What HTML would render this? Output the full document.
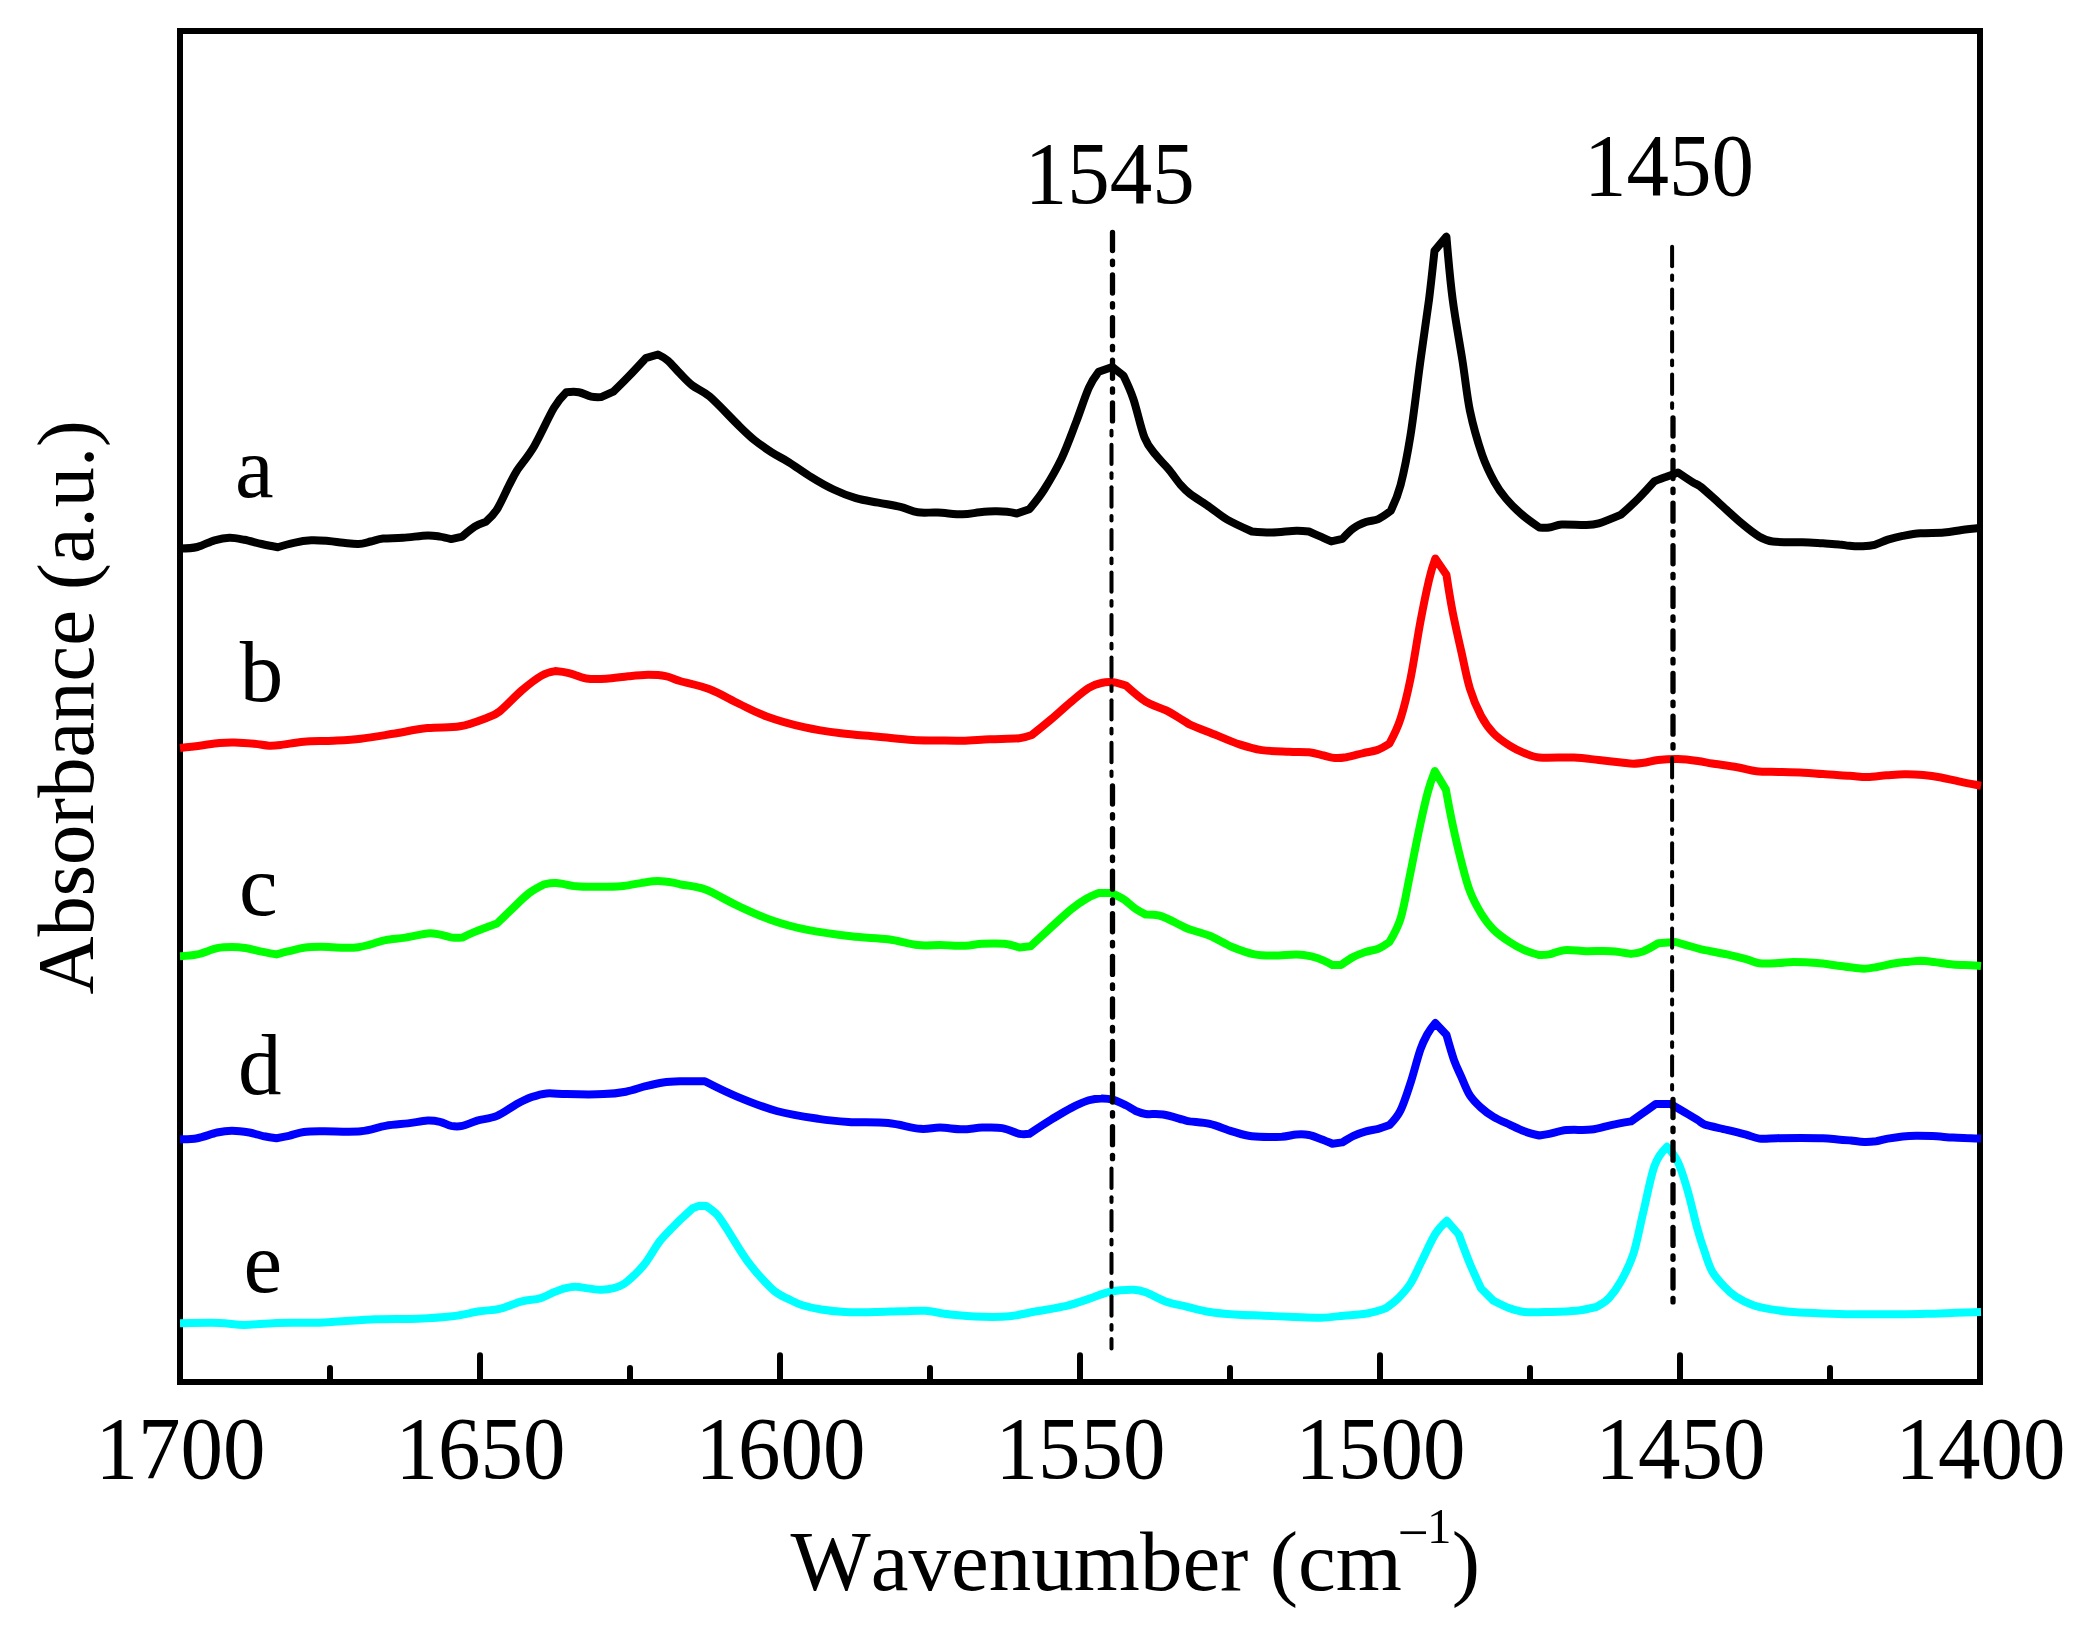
<!DOCTYPE html>
<html lang="en">
<head>
<meta charset="utf-8">
<title>FTIR spectra - Absorbance vs Wavenumber</title>
<style>
html,body{margin:0;padding:0;background:#ffffff;}
body{width:2099px;height:1626px;overflow:hidden;}
svg{display:block;}
text{font-family:"Liberation Serif", serif;fill:#000;font-kerning:none;}
</style>
</head>
<body>
<svg width="2099" height="1626" viewBox="0 0 2099 1626" role="img" aria-labelledby="chart-title chart-desc">
<title id="chart-title">Absorbance (a.u.) versus Wavenumber (cm−1) for samples a–e</title>
<desc id="chart-desc">Five stacked infrared absorbance spectra (a black, b red, c green, d blue, e cyan) from 1700 to 1400 cm−1 with dash-dot marker lines at 1545 and 1450.</desc>
<rect x="0" y="0" width="2099" height="1626" fill="#ffffff"/>
<g id="axes" stroke="#000" stroke-width="6" fill="none">
<rect x="180" y="31" width="1800" height="1351"/>
<g stroke-linecap="round">
<line x1="480" y1="1381" x2="480" y2="1355.2"/>
<line x1="780" y1="1381" x2="780" y2="1355.2"/>
<line x1="1080" y1="1381" x2="1080" y2="1355.2"/>
<line x1="1380" y1="1381" x2="1380" y2="1355.2"/>
<line x1="1680" y1="1381" x2="1680" y2="1355.2"/>
<line x1="330" y1="1381" x2="330" y2="1368"/>
<line x1="630" y1="1381" x2="630" y2="1368"/>
<line x1="930" y1="1381" x2="930" y2="1368"/>
<line x1="1230" y1="1381" x2="1230" y2="1368"/>
<line x1="1530" y1="1381" x2="1530" y2="1368"/>
<line x1="1830" y1="1381" x2="1830" y2="1368"/>
</g>
</g>
<g id="spectra" fill="none" stroke-width="8" stroke-linejoin="round" stroke-linecap="butt">
<path id="curve-a" stroke="#000000" d="M180.0,548.5 C180.0,548.5 191.5,548.4 197.3,547.0 C203.0,545.6 209.2,541.8 214.6,540.3 C220.0,538.8 224.5,537.9 229.5,537.8 C234.4,537.7 239.0,538.8 244.3,539.8 C249.7,540.8 256.1,542.8 261.7,544.0 C267.2,545.3 277.8,547.2 277.8,547.2 C277.8,547.2 288.3,543.9 293.9,542.8 C299.4,541.6 305.4,540.6 311.2,540.3 C317.0,540.0 323.2,540.6 328.6,541.0 C333.9,541.5 338.5,542.3 343.4,542.8 C348.4,543.3 353.7,544.2 358.3,544.0 C362.8,543.8 366.5,542.5 370.7,541.5 C374.8,540.6 378.1,539.1 383.1,538.6 C388.4,538.0 395.4,538.4 402.9,537.8 C410.3,537.3 421.5,535.6 427.6,535.4 C432.6,535.2 436.1,536.0 440.0,536.6 C444.0,537.2 451.2,539.1 451.2,539.1 L462.3,536.6 C462.3,536.6 470.8,529.2 474.7,526.7 C478.6,524.2 485.9,521.7 485.9,521.7 C485.9,521.7 493.1,515.5 497.0,509.3 C500.9,503.1 506.1,491.0 509.4,484.6 C512.4,478.8 513.9,475.5 516.8,470.9 C521.0,464.5 528.0,456.7 534.2,446.2 C540.4,435.6 548.6,416.8 554.0,407.8 C558.9,399.5 566.4,392.2 566.4,392.2 C566.4,392.2 574.6,391.4 578.8,392.2 C582.9,392.9 587.4,395.8 591.2,396.6 C594.9,397.4 601.1,397.1 601.1,397.1 L613.4,391.7 C613.4,391.7 622.9,382.4 628.3,376.8 C633.7,371.2 645.7,358.2 645.7,358.2 L658.0,354.5 C658.0,354.5 664.3,357.5 668.0,360.7 C671.6,363.9 676.1,369.6 680.2,373.7 C684.2,377.8 687.5,381.7 692.4,385.5 C697.3,389.3 702.8,390.6 709.7,396.6 C717.6,403.4 732.0,419.1 739.5,426.3 C745.4,432.1 749.0,435.6 754.3,440.0 C759.7,444.3 765.9,448.6 771.7,452.4 C777.4,456.1 782.4,458.1 789.0,462.3 C795.6,466.4 803.9,472.6 811.3,477.1 C818.7,481.7 826.2,486.0 833.6,489.5 C841.0,493.0 848.5,496.0 855.9,498.2 C863.3,500.4 870.8,501.2 878.2,502.6 C885.6,504.1 893.9,505.3 900.5,506.9 C907.1,508.5 911.6,511.4 917.8,512.3 C924.0,513.3 930.2,512.2 937.6,512.6 C945.1,512.9 955.4,514.3 962.4,514.3 C969.4,514.3 974.4,512.8 979.8,512.3 C985.1,511.8 990.1,511.4 994.6,511.3 C999.2,511.2 1003.3,511.4 1007.0,511.8 C1010.7,512.2 1016.9,513.5 1016.9,513.5 L1029.3,509.3 C1029.3,509.3 1038.8,498.0 1044.2,489.5 C1049.5,481.1 1056.1,469.9 1061.5,458.6 C1066.9,447.2 1071.8,433.2 1076.4,421.4 C1080.9,409.6 1085.1,396.2 1088.8,387.9 C1092.5,379.7 1098.7,371.8 1098.7,371.8 L1112.3,366.9 L1123.4,375.6 C1123.4,375.6 1129.8,388.8 1133.4,399.1 C1136.9,409.4 1140.8,428.2 1144.5,437.5 C1148.2,446.8 1151.7,449.7 1155.7,454.8 C1159.6,460.0 1163.9,463.5 1168.0,468.5 C1172.2,473.4 1176.7,480.3 1180.4,484.6 C1184.1,488.8 1186.3,491.0 1190.2,494.0 C1195.1,497.8 1203.7,502.9 1209.8,507.2 C1216.0,511.5 1220.2,515.6 1227.2,519.6 C1234.2,523.6 1251.9,531.5 1251.9,531.5 C1251.9,531.5 1264.3,532.6 1271.8,532.5 C1279.2,532.3 1290.3,530.9 1296.5,530.7 C1301.5,530.6 1308.9,531.5 1308.9,531.5 C1308.9,531.5 1317.6,535.3 1321.3,536.9 C1325.0,538.6 1331.2,541.4 1331.2,541.4 L1342.4,538.9 C1342.4,538.9 1349.6,531.1 1353.5,528.3 C1357.4,525.4 1361.8,523.6 1365.9,522.1 C1370.0,520.5 1374.2,520.9 1378.3,519.1 C1382.4,517.2 1390.7,510.9 1390.7,510.9 C1390.7,510.9 1397.3,497.5 1400.6,484.9 C1403.9,472.3 1407.2,456.0 1410.5,435.4 C1413.8,414.7 1417.3,383.7 1420.4,361.0 C1423.5,338.3 1426.7,317.5 1429.1,299.1 C1431.2,282.1 1434.5,250.8 1434.5,250.8 L1446.4,236.7 C1446.4,236.7 1450.1,280.0 1452.6,299.1 C1455.3,319.8 1459.6,342.4 1462.5,361.0 C1465.4,379.6 1467.0,396.5 1469.9,410.6 C1473.2,426.3 1478.2,443.2 1482.3,455.2 C1486.5,467.1 1490.8,475.2 1494.7,482.4 C1498.6,489.6 1501.4,493.3 1505.9,498.5 C1510.4,503.9 1516.4,509.8 1522.0,514.6 C1527.5,519.5 1539.3,527.5 1539.3,527.5 C1539.3,527.5 1545.5,528.0 1549.2,527.5 C1552.9,527.0 1556.7,524.9 1561.6,524.5 C1567.8,524.1 1580.2,525.2 1586.4,525.0 C1591.3,524.9 1593.8,524.8 1598.8,523.3 C1604.5,521.6 1621.1,514.6 1621.1,514.6 C1621.1,514.6 1632.8,504.1 1638.4,498.5 C1644.0,492.9 1654.5,481.2 1654.5,481.2 C1654.5,481.2 1661.7,478.4 1665.7,477.0 C1669.6,475.5 1678.0,472.5 1678.0,472.5 C1678.0,472.5 1689.2,480.1 1692.9,482.4 C1695.9,484.3 1697.4,484.1 1700.3,486.5 C1704.8,490.0 1712.6,497.3 1719.5,503.4 C1726.4,509.6 1735.0,517.8 1741.7,523.4 C1748.3,528.9 1754.2,533.6 1759.4,536.7 C1764.6,539.7 1767.4,540.9 1772.7,541.5 C1779.8,542.5 1793.9,542.0 1802.2,542.3 C1810.5,542.6 1816.8,543.0 1822.9,543.3 C1829.1,543.7 1834.7,543.9 1839.2,544.4 C1843.3,544.7 1845.6,545.5 1849.5,545.8 C1853.4,546.2 1858.6,546.4 1862.8,546.3 C1867.0,546.1 1870.4,545.9 1874.6,544.8 C1878.8,543.7 1883.2,541.1 1887.9,539.6 C1892.6,538.2 1897.3,537.0 1902.7,535.9 C1908.1,534.9 1913.5,533.8 1920.4,533.3 C1927.3,532.7 1937.1,533.1 1944.0,532.5 C1950.9,532.0 1955.6,530.8 1961.7,530.0 C1967.9,529.2 1981.0,527.8 1981.0,527.8"/>
<path id="curve-b" stroke="#ff0000" d="M180.0,747.9 C180.0,747.9 193.1,746.5 199.7,745.7 C206.3,744.8 213.8,743.5 219.5,742.9 C225.3,742.4 228.6,742.3 234.4,742.4 C240.2,742.6 248.5,743.2 254.2,743.7 C260.0,744.2 264.6,745.5 269.1,745.7 C273.6,745.9 276.5,745.5 281.5,744.9 C287.3,744.3 295.1,742.4 303.8,741.7 C312.4,741.0 324.0,741.2 333.5,740.7 C343.0,740.2 350.8,739.9 360.8,738.7 C370.7,737.6 381.8,735.6 393.0,733.8 C404.1,732.0 416.5,729.3 427.6,728.1 C438.8,726.8 449.9,728.1 459.9,726.3 C469.8,724.6 480.5,720.2 487.1,717.7 C492.1,715.8 494.5,715.4 499.5,711.5 C505.3,706.9 514.8,696.4 521.8,690.4 C528.8,684.4 536.0,678.8 541.6,675.6 C547.1,672.4 555.2,671.1 555.2,671.1 C555.2,671.1 563.7,671.8 568.9,673.1 C574.0,674.3 580.0,677.6 586.2,678.5 C592.4,679.5 599.0,679.2 606.0,678.8 C613.0,678.4 621.3,677.0 628.3,676.3 C635.3,675.6 641.9,674.9 648.1,674.8 C654.3,674.8 660.2,675.0 665.5,676.1 C670.8,677.1 674.2,679.3 680.0,681.0 C687.4,683.2 699.8,685.3 709.7,689.2 C719.6,693.0 730.0,699.5 739.5,704.0 C749.0,708.6 756.0,712.6 766.7,716.4 C777.4,720.3 791.5,724.3 803.9,727.1 C816.3,729.9 828.6,731.7 841.0,733.3 C853.4,734.9 866.2,735.6 878.2,736.8 C890.2,737.9 903.0,739.4 912.9,740.0 C922.8,740.6 929.4,740.3 937.6,740.5 C945.9,740.6 953.7,740.9 962.4,740.7 C971.1,740.5 980.2,739.6 989.7,739.2 C999.2,738.8 1012.4,738.9 1019.4,738.2 C1024.4,737.7 1031.8,735.0 1031.8,735.0 C1031.8,735.0 1045.0,724.5 1051.6,718.9 C1058.2,713.3 1065.2,706.7 1071.4,701.6 C1077.6,696.4 1083.8,691.0 1088.8,687.9 C1093.7,684.8 1097.0,683.9 1101.2,683.0 C1105.3,682.0 1109.4,681.8 1113.5,682.2 C1117.7,682.7 1125.9,685.5 1125.9,685.5 C1125.9,685.5 1139.1,697.4 1145.7,701.6 C1152.4,705.7 1159.4,707.1 1165.6,710.2 C1171.8,713.3 1178.8,717.8 1182.9,720.2 C1185.7,721.8 1187.2,723.3 1190.0,724.6 C1195.3,727.0 1206.5,731.2 1214.8,734.5 C1223.0,737.8 1231.7,741.8 1239.5,744.4 C1247.4,747.0 1253.6,748.8 1261.8,750.1 C1270.1,751.3 1281.2,751.4 1289.1,751.8 C1296.9,752.2 1303.1,751.7 1308.9,752.3 C1314.7,752.9 1319.4,754.6 1323.8,755.5 C1328.1,756.5 1331.2,757.7 1334.9,758.0 C1338.6,758.3 1341.6,758.0 1346.1,757.3 C1350.8,756.4 1358.3,754.3 1363.4,753.1 C1368.6,751.9 1372.7,751.6 1377.0,750.1 C1381.4,748.5 1389.4,743.6 1389.4,743.6 C1389.4,743.6 1397.1,729.2 1400.6,718.4 C1404.1,707.6 1407.2,694.8 1410.5,678.7 C1413.8,662.6 1417.3,638.3 1420.4,621.8 C1423.5,605.2 1426.6,590.2 1429.1,579.6 C1431.5,569.1 1435.3,558.6 1435.3,558.6 L1446.4,574.7 C1446.4,574.7 1450.1,599.0 1452.6,611.8 C1455.1,624.6 1458.4,638.7 1461.3,651.5 C1464.2,664.3 1466.6,677.9 1469.9,688.6 C1473.2,699.4 1477.2,708.5 1481.1,715.9 C1485.0,723.3 1488.7,728.3 1493.5,733.2 C1498.2,738.2 1504.4,742.3 1509.6,745.6 C1514.7,748.9 1519.5,751.1 1524.4,753.1 C1529.4,755.0 1533.4,757.0 1539.3,757.5 C1547.6,758.3 1564.1,757.1 1574.0,757.5 C1583.9,757.9 1590.9,759.2 1598.8,760.0 C1606.6,760.8 1615.3,761.8 1621.1,762.5 C1626.0,763.0 1629.3,763.7 1633.4,763.7 C1637.6,763.7 1641.7,763.1 1645.8,762.5 C1650.0,761.8 1653.3,760.5 1658.2,760.0 C1663.6,759.4 1671.4,758.8 1678.0,759.0 C1684.6,759.2 1692.2,760.2 1697.9,761.0 C1703.5,761.7 1706.4,762.6 1712.2,763.5 C1718.7,764.5 1729.9,765.9 1737.3,767.2 C1744.6,768.5 1749.6,770.5 1756.5,771.3 C1763.4,772.1 1770.7,771.7 1778.6,771.9 C1786.5,772.1 1796.3,772.3 1803.7,772.7 C1811.1,773.0 1815.3,773.6 1822.9,774.1 C1830.6,774.7 1842.1,775.3 1849.5,775.8 C1856.6,776.2 1861.1,777.2 1867.2,777.1 C1873.4,777.0 1880.3,775.8 1886.4,775.3 C1892.6,774.9 1898.0,774.3 1904.1,774.3 C1910.3,774.2 1917.2,774.5 1923.3,775.0 C1929.5,775.6 1934.4,776.3 1941.1,777.5 C1947.7,778.8 1956.6,781.1 1963.2,782.4 C1969.9,783.8 1981.0,785.7 1981.0,785.7"/>
<path id="curve-c" stroke="#00ff00" d="M180.0,956.2 C180.0,956.2 191.1,955.8 197.3,954.4 C203.4,953.1 211.3,949.5 217.1,948.2 C222.9,947.0 227.0,947.0 231.9,947.0 C236.9,947.0 241.8,947.5 246.8,948.2 C251.8,949.0 256.7,950.7 261.7,951.7 C266.6,952.7 276.5,954.4 276.5,954.4 C276.5,954.4 284.4,952.3 288.9,951.2 C293.5,950.1 298.4,948.5 303.8,947.7 C309.1,947.0 314.5,946.8 321.1,946.8 C327.7,946.8 337.2,947.7 343.4,947.7 C349.4,947.8 353.7,947.8 358.3,947.2 C362.8,946.7 366.1,945.5 370.7,944.3 C375.2,943.1 379.8,941.2 385.5,940.1 C391.3,938.9 398.3,938.7 405.4,937.6 C412.4,936.5 421.9,933.9 427.6,933.4 C432.6,932.9 435.9,933.9 440.0,934.6 C444.2,935.3 448.7,937.1 452.4,937.6 C456.1,938.1 462.3,937.6 462.3,937.6 C462.3,937.6 469.8,933.9 474.7,931.9 C480.5,929.5 497.0,923.5 497.0,923.5 C497.0,923.5 506.5,914.2 511.9,909.1 C517.2,904.0 523.9,897.1 529.2,893.0 C534.6,888.9 544.1,884.3 544.1,884.3 C544.1,884.3 551.5,882.8 556.5,883.1 C561.8,883.4 569.7,885.7 576.3,886.3 C582.9,886.9 588.7,886.8 596.1,886.8 C603.5,886.8 613.4,886.9 620.9,886.3 C628.3,885.7 634.5,883.9 640.7,883.1 C646.9,882.2 652.3,881.1 658.0,881.1 C663.8,881.1 671.7,882.5 675.4,883.1 C677.2,883.4 678.2,883.9 680.0,884.3 C684.9,885.4 695.3,885.8 704.8,889.3 C714.3,892.8 725.8,900.2 737.0,905.4 C748.1,910.5 759.7,916.1 771.7,920.2 C783.6,924.4 795.6,927.5 808.8,930.2 C822.0,932.8 837.7,934.8 850.9,936.3 C864.2,937.9 877.0,937.9 888.1,939.3 C899.2,940.8 909.2,944.1 917.8,945.0 C926.5,946.0 932.3,944.9 940.1,945.0 C948.0,945.1 957.9,946.0 964.9,945.8 C971.8,945.6 975.6,944.1 982.2,943.8 C988.8,943.4 998.3,943.2 1004.5,943.8 C1010.5,944.4 1019.4,947.5 1019.4,947.5 L1030.5,946.3 C1030.5,946.3 1040.2,937.2 1046.7,931.4 C1053.5,925.2 1064.8,914.5 1071.4,909.1 C1077.4,904.2 1081.7,901.4 1086.3,898.7 C1090.8,896.0 1098.7,893.0 1098.7,893.0 L1111.1,893.0 C1111.1,893.0 1119.3,896.5 1123.4,899.2 C1127.6,901.9 1132.1,906.5 1135.8,909.1 C1139.6,911.7 1145.7,914.5 1145.7,914.5 C1145.7,914.5 1154.4,914.5 1158.1,915.3 C1161.8,916.0 1164.1,917.2 1168.0,919.0 C1172.2,920.9 1179.2,924.7 1182.9,926.4 C1185.7,927.8 1187.2,928.6 1190.0,929.6 C1194.5,931.2 1202.8,932.9 1209.8,935.8 C1216.8,938.7 1224.7,943.9 1232.1,947.0 C1239.5,950.0 1247.4,952.9 1254.4,954.4 C1261.4,955.8 1267.2,955.6 1274.2,955.6 C1281.2,955.6 1290.3,954.3 1296.5,954.4 C1302.5,954.5 1306.8,955.3 1311.4,956.4 C1315.9,957.4 1320.3,959.1 1323.8,960.6 C1327.2,962.0 1332.4,965.0 1332.4,965.0 L1341.1,965.0 C1341.1,965.0 1349.4,959.0 1353.5,956.9 C1357.6,954.7 1361.8,953.3 1365.9,951.9 C1370.0,950.5 1374.4,950.3 1378.3,948.7 C1382.2,947.0 1389.4,942.0 1389.4,942.0 C1389.4,942.0 1397.3,929.0 1400.6,918.5 C1403.9,907.9 1406.2,893.7 1409.2,878.8 C1412.3,864.0 1416.1,843.7 1419.2,829.3 C1422.3,814.8 1425.2,801.8 1427.8,792.1 C1430.4,782.4 1434.8,771.1 1434.8,771.1 L1445.9,789.6 C1445.9,789.6 1450.0,812.3 1452.6,824.3 C1455.2,836.3 1458.4,850.3 1461.3,861.5 C1464.2,872.6 1466.6,882.5 1469.9,891.2 C1473.2,899.9 1477.2,907.1 1481.1,913.5 C1485.0,919.9 1488.7,924.9 1493.5,929.6 C1498.2,934.4 1504.4,938.6 1509.6,942.0 C1514.7,945.4 1519.5,948.0 1524.4,950.2 C1529.4,952.4 1539.3,955.1 1539.3,955.1 C1539.3,955.1 1545.3,955.2 1549.2,954.4 C1553.3,953.6 1558.1,950.7 1564.1,950.2 C1570.3,949.6 1578.5,951.0 1586.4,951.2 C1594.2,951.3 1603.7,950.7 1611.2,951.2 C1618.6,951.6 1631.0,953.9 1631.0,953.9 C1631.0,953.9 1638.8,952.9 1643.4,951.2 C1647.9,949.4 1658.2,943.2 1658.2,943.2 L1675.6,942.0 C1675.6,942.0 1688.0,945.6 1692.9,947.0 C1697.7,948.3 1700.0,949.2 1704.8,950.2 C1710.4,951.4 1720.0,952.9 1726.9,954.3 C1733.8,955.8 1740.7,957.6 1746.1,959.1 C1751.4,960.5 1754.1,962.6 1759.4,963.2 C1764.8,963.9 1773.0,963.3 1778.6,963.1 C1784.3,962.9 1787.5,962.0 1793.4,962.0 C1799.8,962.0 1809.6,962.4 1817.0,963.1 C1824.4,963.7 1831.8,965.0 1837.7,965.7 C1843.6,966.5 1848.0,967.1 1852.5,967.6 C1856.9,968.1 1860.3,968.7 1864.3,968.7 C1868.2,968.6 1871.4,968.0 1876.1,967.2 C1881.0,966.3 1888.4,964.4 1893.8,963.5 C1899.2,962.6 1904.1,962.2 1908.6,961.7 C1913.0,961.3 1916.2,960.8 1920.4,960.8 C1924.6,960.9 1928.4,961.4 1933.7,962.0 C1939.1,962.6 1946.7,964.0 1952.9,964.5 C1959.0,965.1 1965.9,965.0 1970.6,965.3 C1974.8,965.5 1981.0,966.0 1981.0,966.0"/>
<path id="curve-d" stroke="#0000ff" d="M180.0,1139.2 C180.0,1139.2 191.1,1139.4 197.3,1138.2 C203.4,1137.1 211.3,1133.8 217.1,1132.5 C222.9,1131.3 226.6,1130.8 231.9,1130.8 C237.3,1130.8 243.9,1131.6 249.3,1132.5 C254.6,1133.4 259.6,1135.3 264.1,1136.3 C268.7,1137.2 276.5,1138.2 276.5,1138.2 C276.5,1138.2 284.4,1136.8 288.9,1135.8 C293.5,1134.7 298.0,1132.8 303.8,1132.0 C309.6,1131.3 315.7,1131.4 323.6,1131.3 C333.1,1131.2 350.4,1132.2 360.8,1131.3 C370.7,1130.4 377.7,1127.2 385.5,1125.9 C393.4,1124.5 400.8,1124.2 407.8,1123.4 C414.8,1122.5 422.3,1120.9 427.6,1120.6 C432.6,1120.4 436.1,1121.0 440.0,1121.9 C444.0,1122.8 447.5,1125.2 451.2,1125.9 C454.9,1126.5 458.0,1126.7 462.3,1125.9 C466.7,1125.0 471.4,1122.3 477.2,1120.6 C483.0,1119.0 490.4,1118.7 497.0,1115.9 C503.6,1113.2 511.1,1107.2 516.8,1104.0 C522.6,1100.9 526.7,1098.9 531.7,1097.1 C536.7,1095.3 540.8,1093.9 546.6,1093.4 C552.3,1092.9 558.5,1094.0 566.4,1094.1 C575.9,1094.3 593.6,1094.6 603.5,1094.1 C612.5,1093.8 618.8,1093.0 625.8,1091.7 C632.9,1090.3 639.5,1087.7 645.7,1086.2 C651.8,1084.7 657.3,1083.3 663.0,1082.5 C668.7,1081.7 673.2,1081.5 680.0,1081.3 C687.0,1081.1 704.8,1081.3 704.8,1081.3 C704.8,1081.3 725.0,1091.7 737.0,1096.6 C749.0,1101.6 763.0,1107.3 776.6,1111.0 C790.2,1114.7 806.8,1117.1 818.7,1118.9 C830.6,1120.7 836.9,1121.2 848.5,1121.9 C860.0,1122.6 876.1,1122.0 888.1,1123.1 C900.1,1124.3 911.6,1128.1 920.3,1128.8 C928.2,1129.5 933.1,1127.5 940.1,1127.6 C947.1,1127.7 955.4,1129.3 962.4,1129.3 C969.4,1129.3 975.6,1127.8 982.2,1127.6 C988.8,1127.4 995.9,1127.0 1002.1,1128.1 C1008.3,1129.1 1014.9,1132.8 1019.4,1133.8 C1023.4,1134.6 1029.3,1133.8 1029.3,1133.8 C1029.3,1133.8 1044.6,1123.7 1051.6,1119.4 C1058.6,1115.1 1065.2,1110.9 1071.4,1107.8 C1077.6,1104.6 1083.8,1101.9 1088.8,1100.3 C1093.7,1098.8 1097.0,1098.4 1101.2,1098.4 C1105.3,1098.3 1109.4,1098.7 1113.5,1099.8 C1117.7,1101.0 1122.2,1103.4 1125.9,1105.3 C1129.6,1107.1 1132.5,1109.5 1135.8,1111.0 C1139.1,1112.4 1141.8,1113.5 1145.7,1114.0 C1150.3,1114.5 1156.9,1113.5 1163.1,1114.5 C1169.3,1115.4 1178.4,1118.5 1182.9,1119.7 C1185.7,1120.4 1187.2,1120.9 1190.0,1121.4 C1194.5,1122.1 1202.8,1122.2 1209.8,1123.9 C1216.8,1125.5 1225.1,1129.2 1232.1,1131.3 C1239.1,1133.4 1244.0,1135.4 1251.9,1136.3 C1260.2,1137.2 1274.2,1137.0 1281.7,1136.8 C1287.6,1136.5 1292.0,1134.8 1296.5,1134.5 C1301.1,1134.2 1304.8,1134.2 1308.9,1135.0 C1313.0,1135.8 1317.4,1137.8 1321.3,1139.2 C1325.2,1140.7 1332.4,1143.7 1332.4,1143.7 L1342.4,1142.4 C1342.4,1142.4 1349.6,1137.6 1353.5,1135.8 C1357.4,1133.9 1361.8,1132.5 1365.9,1131.3 C1370.0,1130.1 1374.4,1129.9 1378.3,1128.8 C1382.2,1127.8 1389.4,1125.1 1389.4,1125.1 C1389.4,1125.1 1397.1,1117.3 1400.6,1110.2 C1404.1,1103.2 1407.2,1093.1 1410.5,1083.0 C1413.8,1072.9 1417.5,1057.8 1420.4,1049.5 C1423.3,1041.3 1425.4,1037.9 1427.8,1033.4 C1430.3,1029.0 1435.3,1023.0 1435.3,1023.0 L1446.4,1034.7 C1446.4,1034.7 1451.4,1052.4 1453.8,1059.5 C1456.3,1066.5 1458.6,1070.8 1461.3,1076.8 C1464.0,1082.8 1466.6,1090.2 1469.9,1095.4 C1473.2,1100.5 1477.2,1104.2 1481.1,1107.8 C1485.0,1111.4 1488.7,1114.1 1493.5,1116.9 C1498.2,1119.7 1504.4,1122.2 1509.6,1124.6 C1514.7,1127.0 1519.5,1129.5 1524.4,1131.3 C1529.4,1133.1 1539.3,1135.5 1539.3,1135.5 C1539.3,1135.5 1545.3,1134.6 1549.2,1133.8 C1553.8,1132.9 1559.6,1130.8 1566.6,1130.1 C1573.6,1129.4 1583.9,1130.4 1591.3,1129.6 C1598.8,1128.7 1604.5,1126.5 1611.2,1125.1 C1617.8,1123.7 1631.0,1121.4 1631.0,1121.4 C1631.0,1121.4 1639.2,1115.6 1643.4,1112.7 C1647.5,1109.8 1655.7,1104.0 1655.7,1104.0 L1670.6,1104.0 C1670.6,1104.0 1680.9,1110.0 1685.5,1112.7 C1690.0,1115.4 1694.6,1118.2 1697.9,1120.2 C1700.6,1121.9 1702.0,1123.7 1704.8,1124.6 C1709.6,1126.2 1720.0,1128.1 1726.9,1129.8 C1733.8,1131.4 1740.7,1133.1 1746.1,1134.6 C1751.4,1136.1 1754.2,1138.0 1759.4,1138.6 C1764.6,1139.2 1770.2,1138.3 1777.1,1138.2 C1784.0,1138.0 1793.1,1137.9 1800.8,1137.9 C1808.4,1137.9 1816.8,1137.9 1822.9,1138.2 C1828.8,1138.4 1833.0,1139.0 1837.7,1139.4 C1842.4,1139.7 1846.6,1140.1 1851.0,1140.5 C1855.4,1141.0 1860.1,1141.9 1864.3,1142.0 C1868.5,1142.1 1872.2,1141.8 1876.1,1141.3 C1880.0,1140.7 1883.5,1139.4 1887.9,1138.6 C1892.3,1137.8 1898.0,1136.9 1902.7,1136.4 C1907.3,1135.9 1911.0,1135.7 1916.0,1135.7 C1920.9,1135.6 1926.1,1135.8 1932.2,1136.1 C1938.4,1136.4 1946.5,1137.2 1952.9,1137.6 C1959.3,1137.9 1965.9,1138.0 1970.6,1138.2 C1974.8,1138.3 1981.0,1138.6 1981.0,1138.6"/>
<path id="curve-e" stroke="#00ffff" d="M180.0,1323.2 C180.0,1323.2 208.8,1322.7 219.5,1322.9 C229.5,1323.2 234.8,1324.9 244.3,1324.9 C253.8,1324.9 263.6,1323.3 276.5,1322.9 C289.7,1322.5 307.1,1323.1 323.6,1322.4 C340.1,1321.8 359.9,1319.8 375.6,1319.2 C391.3,1318.6 404.9,1319.2 417.7,1318.7 C430.5,1318.2 442.1,1317.5 452.4,1316.3 C462.7,1315.0 471.8,1312.5 479.7,1311.3 C487.5,1310.1 492.5,1310.5 499.5,1308.8 C506.5,1307.2 515.0,1303.1 521.8,1301.4 C528.5,1299.6 534.7,1299.9 540.0,1298.3 C545.3,1296.8 549.4,1294.1 553.7,1292.3 C558.0,1290.6 562.0,1289.0 565.7,1288.1 C569.4,1287.1 572.3,1286.6 576.0,1286.7 C579.7,1286.7 583.7,1287.9 588.0,1288.4 C592.3,1288.9 597.5,1289.8 601.7,1289.8 C606.0,1289.7 610.0,1289.1 613.7,1288.1 C617.5,1287.1 620.6,1285.9 624.0,1283.8 C627.5,1281.6 630.9,1278.5 634.3,1275.2 C637.8,1271.9 641.5,1268.0 644.6,1264.0 C647.8,1260.0 650.6,1255.0 653.2,1251.2 C655.8,1247.3 657.3,1244.3 660.1,1240.9 C662.9,1237.3 666.9,1233.3 670.3,1229.7 C673.8,1226.2 676.9,1223.0 680.6,1219.4 C684.4,1215.9 692.6,1208.3 692.6,1208.3 L699.5,1205.7 L706.4,1206.1 C706.4,1206.1 713.5,1210.9 716.7,1214.3 C719.8,1217.7 722.4,1222.0 725.2,1226.3 C728.1,1230.6 730.9,1235.5 733.8,1240.0 C736.7,1244.6 739.5,1249.5 742.4,1253.7 C745.2,1258.0 747.8,1261.8 751.0,1265.8 C754.1,1269.8 757.2,1273.5 761.2,1277.8 C765.3,1282.0 770.4,1287.9 775.0,1291.5 C779.5,1295.1 784.1,1296.9 788.7,1299.2 C793.3,1301.5 797.0,1303.5 802.4,1305.2 C807.8,1306.9 814.1,1308.3 821.3,1309.5 C828.4,1310.6 836.4,1311.6 845.3,1312.1 C854.1,1312.5 865.3,1312.2 874.4,1312.1 C883.6,1311.9 894.8,1311.3 900.0,1311.2 C902.2,1311.2 903.3,1311.3 905.4,1311.3 C909.7,1311.2 917.8,1310.3 925.3,1310.8 C932.7,1311.3 940.5,1313.5 950.0,1314.5 C959.5,1315.5 972.3,1316.5 982.2,1316.8 C992.1,1317.0 1000.4,1317.2 1009.5,1316.3 C1018.6,1315.3 1027.2,1313.0 1036.7,1311.3 C1046.2,1309.6 1057.8,1307.9 1066.5,1305.9 C1075.1,1303.8 1081.3,1301.3 1088.8,1298.9 C1096.2,1296.5 1103.6,1293.0 1111.1,1291.5 C1118.5,1290.0 1127.6,1289.6 1133.4,1289.7 C1138.3,1289.9 1140.8,1290.4 1145.7,1292.2 C1151.1,1294.2 1159.0,1299.0 1165.6,1301.4 C1172.2,1303.7 1181.3,1305.3 1185.4,1306.3 C1187.2,1306.8 1188.2,1307.1 1190.0,1307.5 C1194.1,1308.5 1202.4,1310.8 1209.8,1312.0 C1217.3,1313.2 1225.5,1313.9 1234.6,1314.5 C1243.7,1315.1 1254.4,1315.3 1264.3,1315.7 C1274.2,1316.1 1284.6,1316.6 1294.0,1317.0 C1303.5,1317.3 1313.0,1317.9 1321.3,1317.7 C1329.6,1317.5 1335.8,1316.5 1343.6,1315.7 C1351.4,1315.0 1361.4,1314.5 1368.4,1313.2 C1375.3,1312.0 1385.7,1308.3 1385.7,1308.3 C1385.7,1308.3 1394.0,1302.5 1398.1,1298.4 C1402.2,1294.2 1406.4,1290.1 1410.5,1283.5 C1414.6,1276.9 1418.7,1267.0 1422.9,1258.7 C1427.0,1250.5 1431.3,1240.3 1435.3,1234.0 C1439.3,1227.6 1446.9,1220.8 1446.9,1220.8 L1458.8,1234.5 C1458.8,1234.5 1466.2,1254.7 1469.9,1263.7 C1473.7,1272.7 1481.1,1288.5 1481.1,1288.5 L1493.5,1300.8 C1493.5,1300.8 1504.4,1306.4 1509.6,1308.3 C1514.7,1310.1 1518.5,1311.4 1524.4,1312.0 C1531.1,1312.6 1540.5,1312.2 1549.2,1312.0 C1557.9,1311.8 1568.6,1311.6 1576.5,1310.8 C1584.3,1309.9 1596.3,1307.0 1596.3,1307.0 C1596.3,1307.0 1604.5,1302.7 1608.7,1298.4 C1612.8,1294.0 1616.9,1288.5 1621.1,1281.0 C1625.2,1273.6 1629.7,1265.3 1633.4,1253.8 C1637.2,1242.2 1639.8,1226.3 1643.4,1211.7 C1646.9,1197.0 1650.6,1176.6 1654.5,1165.8 C1658.4,1155.0 1666.9,1146.8 1666.9,1146.8 C1666.9,1146.8 1674.5,1154.6 1678.0,1162.1 C1681.6,1169.6 1684.7,1180.6 1688.0,1191.8 C1691.2,1203.1 1694.8,1219.5 1697.6,1229.5 C1700.4,1239.6 1702.3,1245.3 1704.8,1252.2 C1707.2,1259.2 1709.2,1266.2 1712.2,1271.4 C1715.4,1277.1 1720.0,1282.0 1724.0,1286.2 C1727.9,1290.4 1731.1,1293.5 1735.8,1296.6 C1740.5,1299.6 1746.4,1302.6 1752.0,1304.7 C1757.7,1306.8 1762.9,1307.9 1769.8,1309.1 C1776.6,1310.3 1784.5,1311.3 1793.4,1312.1 C1802.2,1312.8 1813.1,1313.2 1822.9,1313.5 C1832.8,1313.9 1840.6,1314.2 1852.5,1314.3 C1864.8,1314.4 1884.5,1314.3 1896.8,1314.3 C1908.6,1314.2 1916.5,1314.1 1926.3,1313.8 C1936.1,1313.6 1946.7,1313.1 1955.8,1312.8 C1965.0,1312.5 1981.0,1312.1 1981.0,1312.1"/>
</g>
<g id="markers" stroke="#000" stroke-linecap="round" fill="none">
<line x1="1112.5" y1="232.5" x2="1112.5" y2="250.6" stroke-width="5.3"/>
<line x1="1112.5" y1="261.1" x2="1112.5" y2="264.5" stroke-width="5.3"/>
<line x1="1112.5" y1="275.0" x2="1112.5" y2="293.1" stroke-width="5.3"/>
<line x1="1112.5" y1="303.7" x2="1112.5" y2="307.1" stroke-width="5.3"/>
<line x1="1112.5" y1="317.6" x2="1112.5" y2="335.7" stroke-width="5.3"/>
<line x1="1112.5" y1="346.3" x2="1112.5" y2="349.7" stroke-width="5.3"/>
<line x1="1112.5" y1="360.2" x2="1112.5" y2="378.3" stroke-width="5.3"/>
<line x1="1112.5" y1="388.8" x2="1112.5" y2="392.2" stroke-width="5.3"/>
<line x1="1112.5" y1="402.8" x2="1112.5" y2="420.9" stroke-width="5.3"/>
<line x1="1111.5" y1="430.8" x2="1111.5" y2="435.5" stroke-width="4.0"/>
<line x1="1111.5" y1="444.7" x2="1111.5" y2="464.1" stroke-width="4.0"/>
<line x1="1111.5" y1="473.3" x2="1111.5" y2="478.0" stroke-width="4.0"/>
<line x1="1111.5" y1="487.3" x2="1111.5" y2="506.7" stroke-width="4.0"/>
<line x1="1111.5" y1="515.9" x2="1111.5" y2="520.6" stroke-width="4.0"/>
<line x1="1111.5" y1="529.9" x2="1111.5" y2="549.3" stroke-width="4.0"/>
<line x1="1111.5" y1="558.5" x2="1111.5" y2="563.2" stroke-width="4.0"/>
<line x1="1111.5" y1="572.4" x2="1111.5" y2="591.8" stroke-width="4.0"/>
<line x1="1111.5" y1="601.1" x2="1111.5" y2="605.8" stroke-width="4.0"/>
<line x1="1111.5" y1="615.0" x2="1111.5" y2="634.4" stroke-width="4.0"/>
<line x1="1111.5" y1="643.7" x2="1111.5" y2="648.4" stroke-width="4.0"/>
<line x1="1111.5" y1="657.6" x2="1111.5" y2="677.0" stroke-width="4.0"/>
<line x1="1111.5" y1="686.2" x2="1111.5" y2="690.9" stroke-width="4.0"/>
<line x1="1111.5" y1="700.2" x2="1111.5" y2="719.6" stroke-width="4.0"/>
<line x1="1111.5" y1="728.8" x2="1111.5" y2="733.5" stroke-width="4.0"/>
<line x1="1111.5" y1="742.8" x2="1111.5" y2="762.2" stroke-width="4.0"/>
<line x1="1111.5" y1="771.4" x2="1111.5" y2="776.1" stroke-width="4.0"/>
<line x1="1112.5" y1="786.0" x2="1112.5" y2="804.1" stroke-width="5.3"/>
<line x1="1112.5" y1="814.6" x2="1112.5" y2="818.0" stroke-width="5.3"/>
<line x1="1112.5" y1="828.6" x2="1112.5" y2="846.7" stroke-width="5.3"/>
<line x1="1112.5" y1="857.2" x2="1112.5" y2="860.6" stroke-width="5.3"/>
<line x1="1112.5" y1="871.1" x2="1112.5" y2="889.2" stroke-width="5.3"/>
<line x1="1112.5" y1="899.8" x2="1112.5" y2="903.2" stroke-width="5.3"/>
<line x1="1112.5" y1="913.7" x2="1112.5" y2="931.8" stroke-width="5.3"/>
<line x1="1112.5" y1="942.4" x2="1112.5" y2="945.8" stroke-width="5.3"/>
<line x1="1112.5" y1="956.3" x2="1112.5" y2="974.4" stroke-width="5.3"/>
<line x1="1112.5" y1="985.0" x2="1112.5" y2="988.4" stroke-width="5.3"/>
<line x1="1112.5" y1="998.9" x2="1112.5" y2="1017.0" stroke-width="5.3"/>
<line x1="1112.5" y1="1027.5" x2="1112.5" y2="1030.9" stroke-width="5.3"/>
<line x1="1112.5" y1="1041.5" x2="1112.5" y2="1059.6" stroke-width="5.3"/>
<line x1="1112.5" y1="1070.1" x2="1112.5" y2="1073.5" stroke-width="5.3"/>
<line x1="1112.5" y1="1084.0" x2="1112.5" y2="1102.1" stroke-width="5.3"/>
<line x1="1112.5" y1="1112.7" x2="1112.5" y2="1116.1" stroke-width="5.3"/>
<line x1="1112.5" y1="1126.6" x2="1112.5" y2="1144.7" stroke-width="5.3"/>
<line x1="1112.5" y1="1155.3" x2="1112.5" y2="1158.7" stroke-width="5.3"/>
<line x1="1111.5" y1="1168.6" x2="1111.5" y2="1188.0" stroke-width="4.0"/>
<line x1="1111.5" y1="1197.2" x2="1111.5" y2="1201.9" stroke-width="4.0"/>
<line x1="1111.5" y1="1211.1" x2="1111.5" y2="1230.5" stroke-width="4.0"/>
<line x1="1111.5" y1="1239.8" x2="1111.5" y2="1244.5" stroke-width="4.0"/>
<line x1="1111.5" y1="1253.7" x2="1111.5" y2="1273.1" stroke-width="4.0"/>
<line x1="1111.5" y1="1282.4" x2="1111.5" y2="1287.1" stroke-width="4.0"/>
<line x1="1111.5" y1="1296.3" x2="1111.5" y2="1315.7" stroke-width="4.0"/>
<line x1="1111.5" y1="1325.0" x2="1111.5" y2="1329.7" stroke-width="4.0"/>
<line x1="1111.5" y1="1338.9" x2="1111.5" y2="1348.4" stroke-width="4.0"/>
<line x1="1672.1" y1="246.8" x2="1672.1" y2="266.2" stroke-width="4.0"/>
<line x1="1672.1" y1="275.4" x2="1672.1" y2="280.1" stroke-width="4.0"/>
<line x1="1672.1" y1="289.4" x2="1672.1" y2="308.8" stroke-width="4.0"/>
<line x1="1672.1" y1="318.1" x2="1672.1" y2="322.8" stroke-width="4.0"/>
<line x1="1672.1" y1="332.0" x2="1672.1" y2="351.4" stroke-width="4.0"/>
<line x1="1672.1" y1="360.6" x2="1672.1" y2="365.3" stroke-width="4.0"/>
<line x1="1672.1" y1="374.6" x2="1672.1" y2="394.0" stroke-width="4.0"/>
<line x1="1672.1" y1="403.2" x2="1672.1" y2="407.9" stroke-width="4.0"/>
<line x1="1673.0" y1="417.9" x2="1673.0" y2="436.0" stroke-width="5.3"/>
<line x1="1673.0" y1="446.5" x2="1673.0" y2="449.9" stroke-width="5.3"/>
<line x1="1673.0" y1="460.4" x2="1673.0" y2="478.6" stroke-width="5.3"/>
<line x1="1673.0" y1="489.1" x2="1673.0" y2="492.5" stroke-width="5.3"/>
<line x1="1673.0" y1="503.1" x2="1673.0" y2="521.2" stroke-width="5.3"/>
<line x1="1673.0" y1="531.7" x2="1673.0" y2="535.1" stroke-width="5.3"/>
<line x1="1673.0" y1="545.6" x2="1673.0" y2="563.8" stroke-width="5.3"/>
<line x1="1673.0" y1="574.3" x2="1673.0" y2="577.7" stroke-width="5.3"/>
<line x1="1673.0" y1="588.2" x2="1673.0" y2="606.4" stroke-width="5.3"/>
<line x1="1673.0" y1="616.9" x2="1673.0" y2="620.3" stroke-width="5.3"/>
<line x1="1673.0" y1="630.9" x2="1673.0" y2="649.0" stroke-width="5.3"/>
<line x1="1673.0" y1="659.5" x2="1673.0" y2="662.9" stroke-width="5.3"/>
<line x1="1673.0" y1="673.4" x2="1673.0" y2="691.5" stroke-width="5.3"/>
<line x1="1673.0" y1="702.1" x2="1673.0" y2="705.5" stroke-width="5.3"/>
<line x1="1673.0" y1="716.1" x2="1673.0" y2="734.2" stroke-width="5.3"/>
<line x1="1673.0" y1="744.7" x2="1673.0" y2="748.1" stroke-width="5.3"/>
<line x1="1672.1" y1="758.0" x2="1672.1" y2="777.4" stroke-width="4.0"/>
<line x1="1672.1" y1="786.6" x2="1672.1" y2="791.4" stroke-width="4.0"/>
<line x1="1672.1" y1="800.6" x2="1672.1" y2="820.0" stroke-width="4.0"/>
<line x1="1672.1" y1="829.3" x2="1672.1" y2="834.0" stroke-width="4.0"/>
<line x1="1672.1" y1="843.2" x2="1672.1" y2="862.6" stroke-width="4.0"/>
<line x1="1672.1" y1="871.9" x2="1672.1" y2="876.6" stroke-width="4.0"/>
<line x1="1672.1" y1="885.8" x2="1672.1" y2="905.2" stroke-width="4.0"/>
<line x1="1672.1" y1="914.4" x2="1672.1" y2="919.1" stroke-width="4.0"/>
<line x1="1672.1" y1="928.4" x2="1672.1" y2="947.8" stroke-width="4.0"/>
<line x1="1672.1" y1="957.1" x2="1672.1" y2="961.8" stroke-width="4.0"/>
<line x1="1672.1" y1="971.0" x2="1672.1" y2="990.4" stroke-width="4.0"/>
<line x1="1672.1" y1="999.6" x2="1672.1" y2="1004.4" stroke-width="4.0"/>
<line x1="1672.1" y1="1013.6" x2="1672.1" y2="1033.0" stroke-width="4.0"/>
<line x1="1672.1" y1="1042.3" x2="1672.1" y2="1047.0" stroke-width="4.0"/>
<line x1="1672.1" y1="1056.2" x2="1672.1" y2="1075.6" stroke-width="4.0"/>
<line x1="1672.1" y1="1084.9" x2="1672.1" y2="1089.6" stroke-width="4.0"/>
<line x1="1673.0" y1="1099.5" x2="1673.0" y2="1117.5" stroke-width="5.3"/>
<line x1="1673.0" y1="1128.1" x2="1673.0" y2="1131.5" stroke-width="5.3"/>
<line x1="1673.0" y1="1142.1" x2="1673.0" y2="1160.2" stroke-width="5.3"/>
<line x1="1673.0" y1="1170.7" x2="1673.0" y2="1174.1" stroke-width="5.3"/>
<line x1="1673.0" y1="1184.7" x2="1673.0" y2="1202.8" stroke-width="5.3"/>
<line x1="1673.0" y1="1213.3" x2="1673.0" y2="1216.7" stroke-width="5.3"/>
<line x1="1673.0" y1="1227.3" x2="1673.0" y2="1245.4" stroke-width="5.3"/>
<line x1="1673.0" y1="1255.9" x2="1673.0" y2="1259.3" stroke-width="5.3"/>
<line x1="1673.0" y1="1269.9" x2="1673.0" y2="1288.0" stroke-width="5.3"/>
<line x1="1673.0" y1="1298.5" x2="1673.0" y2="1301.9" stroke-width="5.3"/>
</g>
<g id="labels">
<text transform="translate(180.5,1478.3) scale(1,1.035)" font-size="85.0" text-anchor="middle">1700</text>
<text transform="translate(480.5,1478.3) scale(1,1.035)" font-size="85.0" text-anchor="middle">1650</text>
<text transform="translate(780.5,1478.3) scale(1,1.035)" font-size="85.0" text-anchor="middle">1600</text>
<text transform="translate(1080.5,1478.3) scale(1,1.035)" font-size="85.0" text-anchor="middle">1550</text>
<text transform="translate(1380.5,1478.3) scale(1,1.035)" font-size="85.0" text-anchor="middle">1500</text>
<text transform="translate(1680.5,1478.3) scale(1,1.035)" font-size="85.0" text-anchor="middle">1450</text>
<text transform="translate(1980.5,1478.3) scale(1,1.035)" font-size="85.0" text-anchor="middle">1400</text>
<text transform="translate(1109.7,202.9) scale(1,1.035)" font-size="85" text-anchor="middle">1545</text>
<text transform="translate(1669,194.8) scale(1,1.035)" font-size="85" text-anchor="middle">1450</text>
<text x="234.9" y="496.5" font-size="87">a</text>
<text x="239.7" y="700.7" font-size="87">b</text>
<text x="239.0" y="915.0" font-size="87">c</text>
<text x="238.0" y="1093.8" font-size="87">d</text>
<text x="243.6" y="1291.8" font-size="87">e</text>
<text transform="translate(93.1,994.6) rotate(-90)" font-size="80.5" id="ylabel">Absorbance (a.u.)</text>
<text x="790.6" y="1589.8" font-size="85" id="xlabel">Wavenumber (cm</text>
<text x="1397.6" y="1551.2" font-size="55" id="xsup">−</text>
<text transform="translate(1427.0,1543) scale(1,1.035)" font-size="49" id="xsup1">1</text>
<text x="1451.7" y="1589.8" font-size="85" id="xparen">)</text>
</g>
</svg>
</body>
</html>
